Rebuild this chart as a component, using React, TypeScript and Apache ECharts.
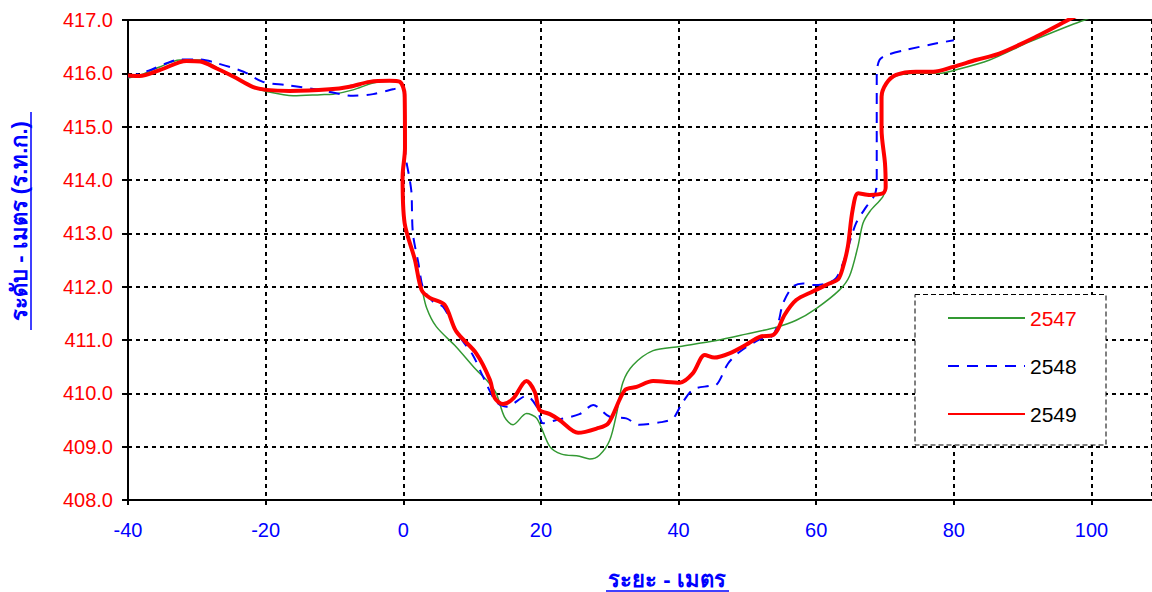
import React, { useEffect, useRef } from "react";
import * as echarts from "echarts";

const xTicks = [-40, -20, 0, 20, 40, 60, 80, 100];
const yTicks = [408, 409, 410, 411, 412, 413, 414, 415, 416, 417];

const s2547: [number, number][] = [
  [-40, 415.91], [-38, 415.98], [-35.4, 416.12], [-32.5, 416.25], [-29.5, 416.25], [-27, 416.1],
  [-24.7, 415.94], [-21.8, 415.74], [-19.9, 415.66], [-16, 415.58], [-12, 415.6], [-10.2, 415.61],
  [-7.3, 415.69], [-4.4, 415.82], [-2, 415.86], [-0.5, 415.84], [0.1, 415.6], [0.3, 414.5],
  [0.0, 414.0], [0.2, 413.2], [1.7, 412.5], [2.65, 412.0], [3.4, 411.6], [4.8, 411.25],
  [7.7, 410.87], [10.6, 410.44], [12.1, 410.25], [13.5, 410.0], [14.7, 409.56], [15.95, 409.41],
  [17.9, 409.62], [19.4, 409.53], [21.3, 409.0], [23, 408.86], [25.6, 408.82], [27.1, 408.77],
  [28.5, 408.84], [30, 409.12], [31, 409.62], [31.9, 410.2], [33.4, 410.53], [36.3, 410.8],
  [40.2, 410.88], [45.5, 410.99], [49.8, 411.11], [54.2, 411.24], [57.1, 411.37], [60, 411.59],
  [63.4, 411.94], [64.85, 412.2], [66.06, 412.75], [66.8, 413.19], [67.8, 413.41], [69.7, 413.69],
  [70.1, 413.87], [70.0, 414.3], [69.6, 414.9], [69.6, 415.5], [70.2, 415.8], [71.6, 415.95],
  [74.5, 416.0], [77.9, 416.0], [79.9, 416.05], [85.2, 416.25], [91, 416.59], [96.3, 416.87],
  [99, 417.0], [101, 417.1],
];

const s2548: [number, number][] = [
  [-40, 415.93], [-37, 416.05], [-34.4, 416.19], [-32.5, 416.26], [-29.5, 416.26], [-27.1, 416.19],
  [-23.2, 416.03], [-20.4, 415.84], [-17, 415.78], [-12.1, 415.69], [-7.3, 415.58], [-4.4, 415.61],
  [-1.5, 415.7], [0, 415.75], [0.1, 415.56], [0.3, 414.5], [0.95, 414.0], [1.2, 413.75],
  [1.4, 413.0], [2.2, 412.44], [2.9, 411.97], [4.3, 411.72], [5.8, 411.62], [8.2, 411.06],
  [10.1, 410.72], [11.6, 410.31], [13.5, 409.84], [15.0, 409.75], [17.9, 409.95], [19.4, 409.75],
  [20.3, 409.44], [22.25, 409.5], [25.6, 409.61], [27.6, 409.78], [30, 409.56], [32.4, 409.53],
  [34.3, 409.41], [37.5, 409.46], [39.2, 409.53], [40.5, 409.81], [42.1, 410.07], [44.5, 410.14],
  [45.5, 410.16], [47.2, 410.56], [48.9, 410.78], [51.8, 411.01], [53.5, 411.06], [54.4, 411.28],
  [55.2, 411.69], [56.6, 412.0], [58.1, 412.06], [59.5, 412.03], [61.5, 412.06], [62.9, 412.16],
  [63.9, 412.44], [64.4, 412.63], [65.8, 413.19], [67.3, 413.5], [68.5, 413.72], [68.8, 413.94],
  [68.8, 416.0], [69.2, 416.25], [70.2, 416.34], [73.1, 416.44], [77, 416.55], [80, 416.62],
];

const s2549: [number, number][] = [
  [-40, 415.96], [-38.3, 415.95], [-35.4, 416.06], [-31.5, 416.23], [-29.5, 416.22], [-27.1, 416.09],
  [-24.7, 415.94], [-21.8, 415.74], [-19.9, 415.69], [-16.5, 415.67], [-10.7, 415.7], [-7.8, 415.75],
  [-4.9, 415.84], [-2, 415.86], [-0.5, 415.84], [0.2, 415.6], [0.25, 414.6], [-0.1, 414.06],
  [0.2, 413.19], [1.7, 412.5], [2.65, 411.94], [3.86, 411.79], [6.0, 411.66], [7.7, 411.16],
  [10.6, 410.75], [12.6, 410.25], [13.3, 409.91], [14.5, 409.8], [15.95, 409.9], [17.9, 410.23],
  [19.1, 410.03], [19.8, 409.69], [21.3, 409.61], [22.7, 409.5], [25.4, 409.26], [28.1, 409.34],
  [29.8, 409.44], [32.2, 410.06], [33.9, 410.12], [36.3, 410.23], [40.2, 410.2], [42.1, 410.38],
  [43.8, 410.72], [45.2, 410.67], [47.4, 410.75], [49.8, 410.91], [51.8, 411.06], [53.7, 411.09],
  [54.4, 411.19], [55.4, 411.47], [57.1, 411.75], [59.5, 411.91], [61.9, 412.06], [63.2, 412.14],
  [63.9, 412.37], [64.6, 412.75], [65.3, 413.44], [66.1, 413.75], [67.8, 413.72], [69.7, 413.75],
  [70.1, 413.87], [70.0, 414.31], [69.5, 414.94], [69.5, 415.56], [70.2, 415.81], [71.6, 415.97],
  [74.5, 416.03], [77, 416.03], [79.9, 416.12], [83.2, 416.25], [86.6, 416.37], [92, 416.69],
  [96.6, 417.0], [99, 417.15],
];

const seriesNames = ["2547", "2548", "2549"];
const xTitle = "ระยะ - เมตร";
const yTitle = "ระดับ - เมตร (ร.ท.ก.)";

const FONT = "'Liberation Sans', Arial, 'DejaVu Sans', sans-serif";

export default function App() {
  const ref = useRef<HTMLDivElement>(null);
  useEffect(() => {
    document.body.style.margin = "0";
    const chart = echarts.init(ref.current!, null, { renderer: "svg" });
    const dotted = { color: "#000", width: 2, type: [4, 4] as any };
    chart.setOption({
      animation: false,
      backgroundColor: "#fff",
      grid: { left: 128, top: 20, right: 0, bottom: 92, containLabel: false },
      xAxis: [
        {
          type: "value",
          min: xTicks[0],
          max: 108.8,
          interval: 20,
          axisLine: { show: true, onZero: false, lineStyle: { color: "#000", width: 2 } },
          axisTick: { show: true, length: 5, lineStyle: { color: "#000", width: 2 } },
          axisLabel: {
            color: "#0000ff",
            fontSize: 20,
            fontFamily: FONT,
            margin: 20,
            showMaxLabel: false,
          },
          splitLine: { show: true, lineStyle: dotted },
        },
        {
          type: "value",
          position: "top",
          min: xTicks[0],
          max: 108.8,
          interval: 20,
          axisLine: { show: true, onZero: false, lineStyle: { color: "#000", width: 2 } },
          axisTick: { show: false },
          axisLabel: { show: false },
          splitLine: { show: false },
        },
      ],
      yAxis: {
        type: "value",
        min: yTicks[0],
        max: yTicks[yTicks.length - 1],
        interval: 1,
        axisLine: { show: true, onZero: false, lineStyle: { color: "#000", width: 2 } },
        axisTick: { show: true, length: 6, lineStyle: { color: "#000", width: 2 } },
        axisLabel: {
          color: "#ff0000",
          fontSize: 20,
          fontFamily: FONT,
          margin: 15,
          formatter: (v: number) => v.toFixed(1),
        },
        splitLine: { show: true, lineStyle: dotted },
      },
      legend: {
        orient: "vertical",
        left: 947,
        top: 307,
        padding: 0,
        itemWidth: 77,
        itemHeight: 14,
        itemGap: 26,
        itemStyle: { opacity: 0 },
        textStyle: { fontSize: 21, fontFamily: FONT, color: "#000", lineHeight: 22 },
        data: [
          { name: seriesNames[0], textStyle: { color: "#ff0000" } },
          { name: seriesNames[1] },
          { name: seriesNames[2] },
        ],
      },
      graphic: [
        {
          type: "rect",
          z: 3,
          shape: { x: 915, y: 294.5, width: 191, height: 150.5 },
          style: { fill: "#fff", stroke: "#000", lineWidth: 1, lineDash: [5, 3] },
        },
        {
          type: "text",
          x: 667,
          y: 579,
          style: {
            text: xTitle,
            fontSize: 22,
            fontWeight: "bold",
            fontFamily: FONT,
            fill: "#0000ff",
            align: "center",
            verticalAlign: "middle",
          },
        },
        {
          type: "line",
          shape: { x1: 606, y1: 591, x2: 729, y2: 591 },
          style: { stroke: "#0000ff", lineWidth: 1.5 },
        },
        {
          type: "text",
          x: 19,
          y: 221,
          rotation: Math.PI / 2,
          style: {
            text: yTitle,
            fontSize: 22,
            fontWeight: "bold",
            fontFamily: FONT,
            fill: "#0000ff",
            align: "center",
            verticalAlign: "middle",
          },
        },
        {
          type: "line",
          shape: { x1: 31, y1: 112, x2: 31, y2: 330 },
          style: { stroke: "#0000ff", lineWidth: 1.5 },
        },
      ],
      series: [
        {
          name: seriesNames[0],
          type: "line",
          data: s2547,
          symbol: "none",
          smooth: 0.3,
          z: 3,
          lineStyle: { color: "#339933", width: 1.5 },
          itemStyle: { color: "#339933" },
        },
        {
          name: seriesNames[1],
          type: "line",
          data: s2548,
          symbol: "none",
          smooth: 0.3,
          z: 4,
          lineStyle: { color: "#0000ff", width: 2, type: [11, 8] },
          itemStyle: { color: "#0000ff" },
        },
        {
          name: seriesNames[2],
          type: "line",
          data: s2549,
          symbol: "none",
          smooth: 0.3,
          z: 5,
          lineStyle: { color: "#ff0000", width: 4 },
          itemStyle: { color: "#ff0000" },
        },
      ],
    });
    return () => chart.dispose();
  }, []);
  return <div ref={ref} style={{ width: 1152, height: 592 }} />;
}
